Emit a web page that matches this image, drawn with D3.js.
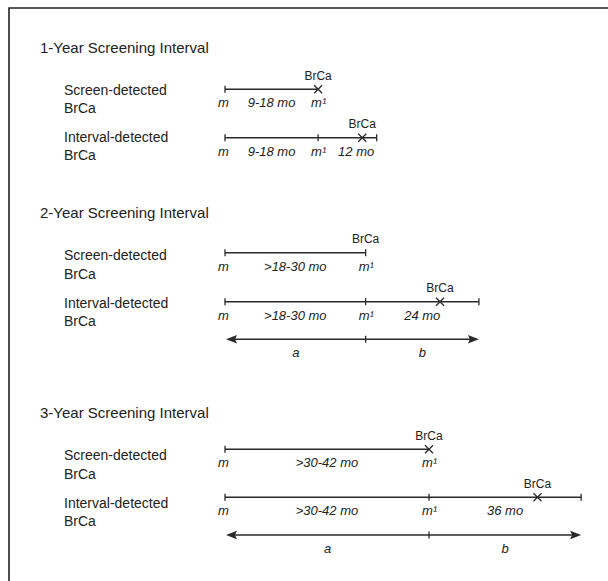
<!DOCTYPE html>
<html><head><meta charset="utf-8">
<script src="https://cdn.jsdelivr.net/npm/d3@7"></script>
<style>
html,body{margin:0;padding:0;background:#fff;}
svg{display:block;}
text{font-family:"Liberation Sans",Arial,Helvetica,sans-serif;fill:#222;}
</style></head>
<body>
<svg id="chart" width="608" height="581"></svg>
<script>
// ---- data ----
const sectionTitles = ["1-Year Screening Interval", "2-Year Screening Interval", "3-Year Screening Interval"];
const rowLabels = [["Screen-detected", "BrCa"], ["Interval-detected", "BrCa"]];
const rangeLabels = ["9-18 mo", ">18-30 mo", ">30-42 mo"];
const intervalLabels = ["12 mo", "24 mo", "36 mo"];
// positions along the drawn timeline, in months after mammogram m
const m1Pos = [19.4, 29.3, 42.5];
const screenBrCaPos = [19.4, 29.3, 42.5];
const screenHasCross = [true, false, true];
const intervalBrCaPos = [28.6, 44.8, 65.1];
const intervalEnd = [31.6, 52.9, 74.2];
const hasArrows = [false, true, true];
const eventLabel = "BrCa";
const segLabels = ["a", "b"];

// ---- layout ----
const titleY = [52.7, 218.3, 418.3];
const screenLineOff = [36.6, 34.4, 31];
const intervalLineOff = [85, 83.4, 79];
const arrowOff = [null, 121, 116.7];

const svg = d3.select("#chart");
const x = d3.scaleLinear().domain([0, 80]).range([225, 225 + 4.8 * 80]);
const ink = "#2a2a2a";

// border (left and top)
svg.append("path").attr("d", "M9,581V8H608").attr("fill", "none")
  .attr("stroke", "#222").attr("stroke-width", 1.6);

function tick(g, xv, y) {
  g.append("line").attr("x1", x(xv)).attr("x2", x(xv)).attr("y1", y - 3.5).attr("y2", y + 3.5)
    .attr("stroke", ink).attr("stroke-width", 1.3);
}
function cross(g, xv, y) {
  const s = 4, cx = x(xv);
  g.append("path").attr("d", `M${cx - s},${y - s}L${cx + s},${y + s}M${cx - s},${y + s}L${cx + s},${y - s}`)
    .attr("stroke", ink).attr("stroke-width", 1.3).attr("fill", "none");
}
function hline(g, a, b, y) {
  g.append("line").attr("x1", x(a)).attr("x2", x(b)).attr("y1", y).attr("y2", y)
    .attr("stroke", ink).attr("stroke-width", 1.4);
}
function ital(g, txt, xpos, y, anchor) {
  return g.append("text").attr("x", xpos).attr("y", y).attr("text-anchor", anchor || "middle")
    .attr("font-size", 13).attr("font-style", "italic").text(txt);
}
function brca(g, xv, y) {
  g.append("text").attr("x", x(xv)).attr("y", y - 9.5).attr("text-anchor", "middle")
    .attr("font-size", 12).text(eventLabel);
}

sectionTitles.forEach((t, i) => {
  const g = svg.append("g");
  const ty = titleY[i];
  g.append("text").attr("x", 40).attr("y", ty).attr("font-size", 15).text(t);
  // row labels
  rowLabels.forEach((lines, r) => {
    const base = ty + (r === 0 ? 42 : 89.4);
    lines.forEach((ln, k) => {
      g.append("text").attr("x", 64).attr("y", base + k * 18.3).attr("font-size", 14).text(ln);
    });
  });
  // screen-detected row
  const sy = ty + screenLineOff[i];
  hline(g, 0, m1Pos[i], sy);
  tick(g, 0, sy);
  if (screenHasCross[i]) cross(g, screenBrCaPos[i], sy); else tick(g, m1Pos[i], sy);
  brca(g, screenBrCaPos[i], sy);
  ital(g, "m", x(0) - 1.5, sy + 18);
  ital(g, rangeLabels[i], (x(0) + x(m1Pos[i])) / 2, sy + 18);
  ital(g, "m\u00B9", x(m1Pos[i]) - 7, sy + 18, "start");

  // interval-detected row
  const iy = ty + intervalLineOff[i];
  hline(g, 0, intervalEnd[i], iy);
  tick(g, 0, iy); tick(g, m1Pos[i], iy); tick(g, intervalEnd[i], iy);
  cross(g, intervalBrCaPos[i], iy);
  brca(g, intervalBrCaPos[i], iy);
  ital(g, "m", x(0) - 1.5, iy + 18);
  ital(g, rangeLabels[i], (x(0) + x(m1Pos[i])) / 2, iy + 18);
  ital(g, "m\u00B9", x(m1Pos[i]) - 7, iy + 18, "start");
  const lab = ital(g, intervalLabels[i], 0, iy + 18, "start");
  const w = lab.node().getComputedTextLength();
  const mid = (x(m1Pos[i]) + x(intervalEnd[i])) / 2;
  lab.attr("x", Math.max(mid - w / 2, x(m1Pos[i]) + 20));

  // a / b arrow
  if (hasArrows[i]) {
    const ay = ty + arrowOff[i];
    const x0 = x(0) + 1, x1 = x(intervalEnd[i]), hl = 11, hw = 4.2;
    g.append("line").attr("x1", x0 + 4).attr("x2", x1 - 4).attr("y1", ay).attr("y2", ay)
      .attr("stroke", ink).attr("stroke-width", 1.4);
    g.append("path").attr("d", `M${x0},${ay}L${x0 + hl},${ay - hw}L${x0 + hl - 2},${ay}L${x0 + hl},${ay + hw}Z`).attr("fill", ink);
    g.append("path").attr("d", `M${x1},${ay}L${x1 - hl},${ay - hw}L${x1 - hl + 2},${ay}L${x1 - hl},${ay + hw}Z`).attr("fill", ink);
    tick(g, m1Pos[i], ay);
    ital(g, segLabels[0], (x0 + x(m1Pos[i])) / 2, ay + 17.7);
    ital(g, segLabels[1], (x(m1Pos[i]) + x1) / 2, ay + 17.7);
  }
});
</script>
</body></html>
